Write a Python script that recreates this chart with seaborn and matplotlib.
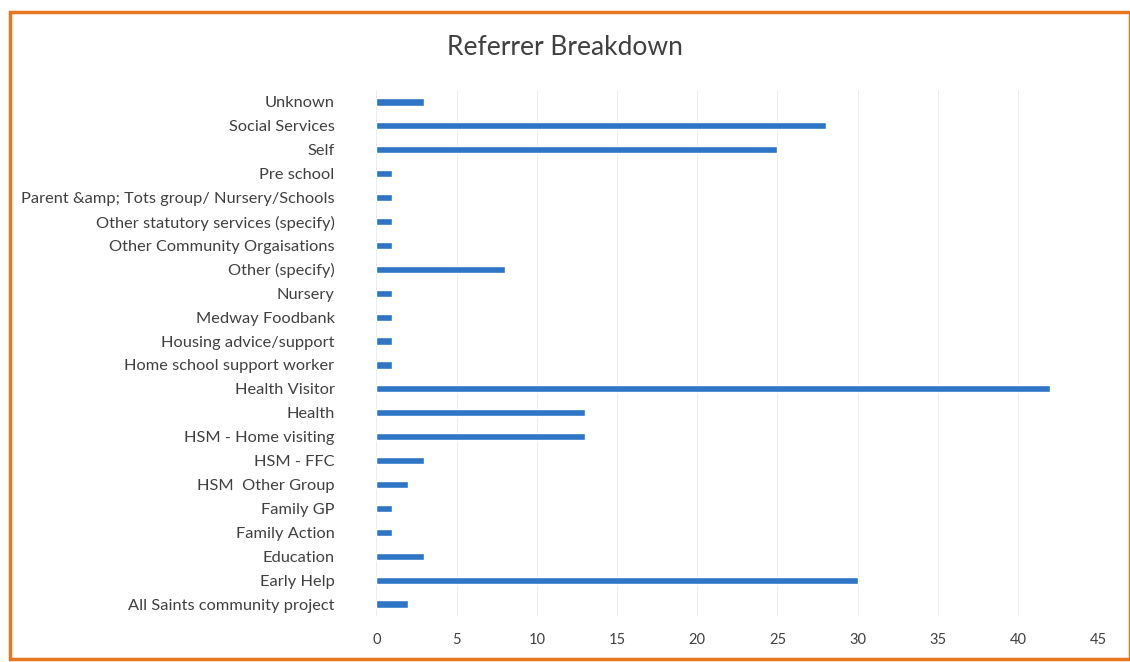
import matplotlib
matplotlib.use("Agg")
import matplotlib.pyplot as plt
import seaborn as sns
import pandas as pd
from matplotlib.patches import Rectangle

categories = [
    "Unknown", "Social Services", "Self", "Pre school",
    "Parent &amp; Tots group/ Nursery/Schools",
    "Other statutory services (specify)", "Other Community Orgaisations",
    "Other (specify)", "Nursery", "Medway Foodbank", "Housing advice/support",
    "Home school support worker", "Health Visitor", "Health",
    "HSM - Home visiting", "HSM - FFC", "HSM  Other Group", "Family GP",
    "Family Action", "Education", "Early Help", "All Saints community project",
]
values = [3, 28, 25, 1, 1, 1, 1, 8, 1, 1, 1, 1, 42, 13, 13, 3, 2, 1, 1, 3, 30, 2]
x_ticks = [0, 5, 10, 15, 20, 25, 30, 35, 40, 45]

sns.set_theme(style="white")
plt.rcParams["font.family"] = ["Lato", "DejaVu Sans"]

df = pd.DataFrame({"cat": categories, "val": values})

fig = plt.figure(figsize=(11.3, 6.62), dpi=100)
ax = fig.add_axes([0.333, 0.0695, 0.639, 0.7945])
sns.barplot(data=df, y="cat", x="val", orient="h", color="#2E75C6",
            width=0.3, ax=ax, saturation=1)
ax.set_xlim(0, 45)
ax.set_xticks(x_ticks)
ax.set_xlabel("")
ax.set_ylabel("")
ax.grid(axis="x", color="#EDEDED", linewidth=0.8)
ax.set_axisbelow(True)
for s in ax.spines.values():
    s.set_visible(False)
ax.tick_params(axis="y", labelsize=11.8, colors="#404040", length=0, pad=30)
ax.tick_params(axis="x", labelsize=10.5, colors="#404040", length=0, pad=12)

fig.text(0.5, 0.928, "Referrer Breakdown", ha="center", va="center",
         fontsize=19, color="#404040")

fig.patches.append(Rectangle((10 / 1130, 3 / 662), 1120 / 1130, 647 / 662,
                             transform=fig.transFigure, fill=False,
                             edgecolor="#E8761E", linewidth=2.5))

fig.savefig("out.png", dpi=100)
